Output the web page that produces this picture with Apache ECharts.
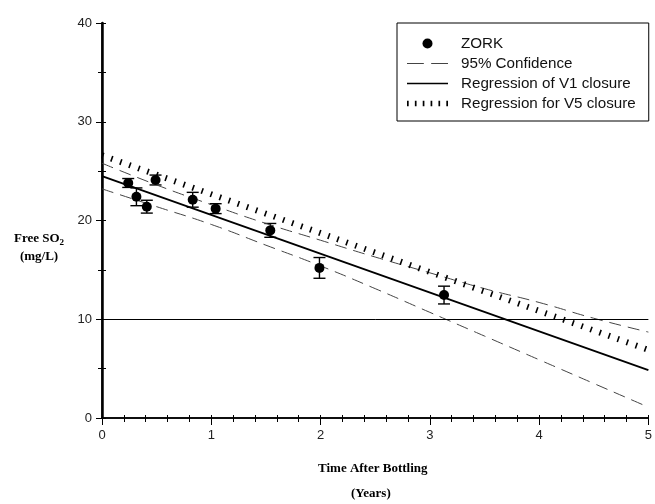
<!DOCTYPE html>
<html>
<head>
<meta charset="utf-8">
<script src="https://cdn.jsdelivr.net/npm/echarts@6/dist/echarts.min.js"></script>
<style>
  html, body { margin: 0; padding: 0; background: #fff; }
  #chart { width: 655px; height: 504px; }
</style>
</head>
<body>
<div id="chart"></div>
<script>
// measured points (years, mg/L) and their error half-widths
const zorkX = [0.24, 0.315, 0.41, 0.49, 0.83, 1.04, 1.54, 1.99, 3.13]
const zorkY = [23.8, 22.4, 21.4, 24.1, 22.1, 21.2, 19.0, 15.2, 12.45]
const zorkErr = [0.45, 0.9, 0.65, 0.5, 0.75, 0.5, 0.7, 1.05, 0.9]

// lines
const lineX = [0, 0.5, 1, 1.5, 2, 2.5, 3, 3.5, 4, 4.5, 5]
const confUpper = [25.8, 23.6, 21.6, 19.7, 18.0, 16.3, 14.7, 13.1, 11.7, 10.1, 8.7]
const confLower = [23.2, 21.4, 19.6, 17.5, 15.4, 13.1, 10.7, 8.3, 5.9, 3.5, 1.1]
const regX = [0, 5]
const regV1 = [24.5, 4.85]
const regV5 = [26.6, 6.9]
const refLevel = 10

const xTicks = [0, 1, 2, 3, 4, 5]
const yTicks = [0, 10, 20, 30, 40]

const chart = echarts.init(document.getElementById('chart'))

function pairs(xs, ys) {
  return xs.map((x, i) => [x, ys[i]])
}

const labelFont = { fontFamily: 'Liberation Sans', fontSize: 13, color: '#222' }
const titleFont = 'bold 13px "Liberation Serif"'

// legend glyphs
const iconSolid = 'path://M0,4.2L41,4.2L41,5.8L0,5.8Z'
const iconDash = 'path://M0,4.5L16,4.5L16,5.5L0,5.5ZM23,4.5L39,4.5L39,5.5L23,5.5Z'
const iconTicks = 'path://M0,2.5h1.5v5h-1.5zM7,2.5h1.5v5h-1.5zM14,2.5h1.5v5h-1.5zM21,2.5h1.5v5h-1.5zM28,2.5h1.5v5h-1.5zM35,2.5h1.5v5h-1.5z'

let option = {
  animation: false,
  grid: { left: 102, right: 3, top: 23, bottom: 86 },
  legend: {
    orient: 'vertical',
    left: 397,
    top: 23,
    padding: [13, 13, 10, 10],
    itemGap: 5,
    itemWidth: 41,
    itemHeight: 10,
    borderColor: '#000',
    borderWidth: 1,
    backgroundColor: '#fff',
    textStyle: { fontFamily: 'Liberation Sans', fontSize: 15.2, lineHeight: 14, color: '#111', padding: [0, 0, 0, 8] },
    data: [
      { name: 'ZORK', icon: 'circle', itemStyle: { color: '#000', opacity: 1 } },
      { name: '95% Confidence', icon: iconDash, itemStyle: { color: '#444', borderWidth: 0 } },
      { name: 'Regression of V1 closure', icon: iconSolid, itemStyle: { color: '#000', borderWidth: 0 } },
      { name: 'Regression for V5 closure', icon: iconTicks, itemStyle: { color: '#000', borderWidth: 0 } },
    ],
  },
  xAxis: [
    {
      type: 'value', min: 0, max: 5, interval: 1,
      axisLine: { lineStyle: { color: '#000', width: 1.5 } },
      axisTick: { length: 7, lineStyle: { color: '#000' } },
      splitLine: { show: false },
      axisLabel: Object.assign({ margin: 11, formatter: v => xTicks.includes(v) ? v : '' }, labelFont),
    },
    {
      // inner minor ticks along the bottom
      type: 'value', min: 0, max: 5, interval: 0.2, position: 'bottom',
      axisLine: { show: false },
      axisTick: { inside: true, length: 3, lineStyle: { color: '#000' } },
      axisLabel: { show: false }, splitLine: { show: false },
    },
    {
      // top frame
      type: 'value', min: 0, max: 5, interval: 0.2, position: 'top',
      axisLine: { show: true, lineStyle: { color: '#000', width: 1.5 } },
      axisTick: { inside: true, length: 4, lineStyle: { color: '#000' } },
      axisLabel: { show: false }, splitLine: { show: false },
    },
  ],
  yAxis: [
    {
      type: 'value', min: 0, max: 40, interval: 10,
      axisLine: { show: true, lineStyle: { color: '#000', width: 2.5 } },
      axisTick: { show: true, length: 6, lineStyle: { color: '#000' } },
      splitLine: { show: false },
      axisLabel: Object.assign({ margin: 10, formatter: v => yTicks.includes(v) ? v : '' }, labelFont),
    },
    {
      // inner ticks on the left
      type: 'value', min: 0, max: 40, interval: 5, position: 'left',
      axisLine: { show: false },
      axisTick: { inside: true, length: 4, lineStyle: { color: '#000' } },
      axisLabel: { show: false }, splitLine: { show: false },
    },
    {
      // right frame
      type: 'value', min: 0, max: 40, interval: 5, position: 'right',
      axisLine: { show: true, lineStyle: { color: '#000', width: 1.5 } },
      axisTick: { inside: true, length: 4, lineStyle: { color: '#000' } },
      axisLabel: { show: false }, splitLine: { show: false },
    },
  ],
  series: [
    {
      name: 'ref',
      type: 'line',
      data: [],
      markLine: {
        silent: true,
        symbol: 'none',
        label: { show: false },
        lineStyle: { color: '#000', width: 1, type: 'solid' },
        data: [{ yAxis: refLevel }],
      },
    },
    {
      name: '95% Confidence',
      type: 'line',
      smooth: true,
      symbol: 'none',
      lineStyle: { color: '#444', width: 1, type: [12, 7] },
      itemStyle: { color: '#444' },
      data: pairs(lineX, confUpper),
    },
    {
      name: '95% Confidence',
      type: 'line',
      smooth: true,
      symbol: 'none',
      lineStyle: { color: '#444', width: 1, type: [12, 7] },
      itemStyle: { color: '#444' },
      data: pairs(lineX, confLower),
    },
    {
      name: 'Regression of V1 closure',
      type: 'line',
      symbol: 'none',
      lineStyle: { color: '#000', width: 1.8 },
      itemStyle: { color: '#000' },
      data: pairs(regX, regV1),
    },
    {
      name: 'Regression for V5 closure',
      type: 'line',
      symbol: 'none',
      lineStyle: { color: '#000', width: 6, type: [1.6, 8] },
      itemStyle: { color: '#000' },
      data: pairs(regX, regV5),
    },
    {
      name: 'err',
      type: 'custom',
      data: zorkX.map((x, i) => [x, zorkY[i], zorkErr[i]]),
      renderItem: function (params, api) {
        const x = api.value(0)
        const y = api.value(1)
        const e = api.value(2)
        const hi = api.coord([x, y + e])
        const lo = api.coord([x, y - e])
        const cap = 6
        const st = { stroke: '#000', lineWidth: 1.4 }
        return {
          type: 'group',
          children: [
            { type: 'line', shape: { x1: hi[0], y1: hi[1], x2: lo[0], y2: lo[1] }, style: st },
            { type: 'line', shape: { x1: hi[0] - cap, y1: hi[1], x2: hi[0] + cap, y2: hi[1] }, style: st },
            { type: 'line', shape: { x1: lo[0] - cap, y1: lo[1], x2: lo[0] + cap, y2: lo[1] }, style: st },
          ],
        }
      },
    },
    {
      name: 'ZORK',
      type: 'scatter',
      symbol: 'circle',
      symbolSize: 10,
      itemStyle: { color: '#000', opacity: 1 },
      data: pairs(zorkX, zorkY),
      z: 5,
    },
  ],
  graphic: [
    {
      type: 'text', left: 14, top: 230,
      style: {
        text: '{a|Free SO}{s|2}\n{b|(mg/L)}',
        align: 'center',
        rich: {
          a: { font: titleFont, fill: '#000', lineHeight: 18 },
          s: { font: 'bold 9px "Liberation Serif"', fill: '#000', padding: [8, 0, 0, 0], lineHeight: 18 },
          b: { font: titleFont, fill: '#000', lineHeight: 18, align: 'center' },
        },
      },
    },
    {
      type: 'text', left: 318, top: 462,
      style: { text: 'Time After Bottling', font: titleFont, fill: '#000' },
    },
    {
      type: 'text', left: 351, top: 487,
      style: { text: '(Years)', font: titleFont, fill: '#000' },
    },
  ],
}

chart.setOption(option)
</script>
</body>
</html>
